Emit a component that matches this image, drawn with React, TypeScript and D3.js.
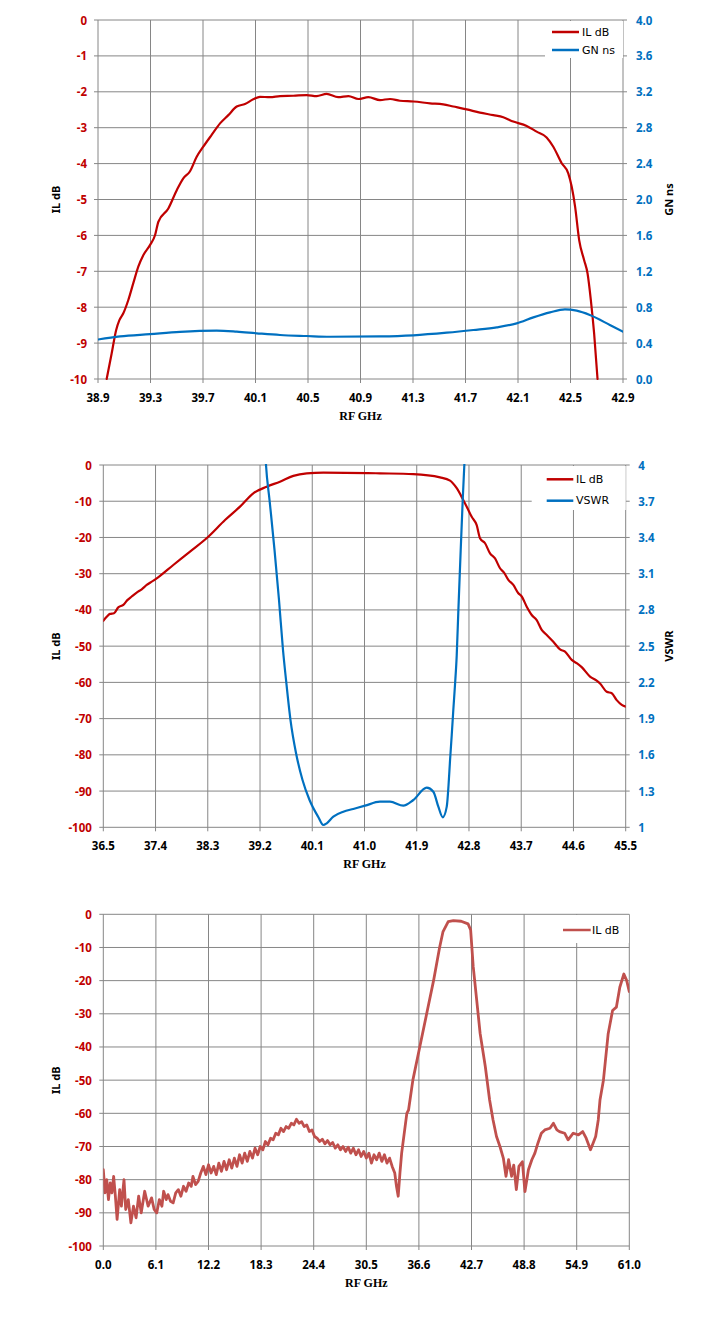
import React from 'react';
import * as d3 from 'd3';

// ---------- Chart 1 : IL dB / GN ns ----------
const c1XTicks = ['38.9', '39.3', '39.7', '40.1', '40.5', '40.9', '41.3', '41.7', '42.1', '42.5', '42.9'];
const c1LeftTicks = ['0', '-1', '-2', '-3', '-4', '-5', '-6', '-7', '-8', '-9', '-10'];
const c1RightTicks = ['0.0', '0.4', '0.8', '1.2', '1.6', '2.0', '2.4', '2.8', '3.2', '3.6', '4.0'];
const c1IL: [number, number][] = [
  [38.966, -10.0], [39.004, -9.29], [39.038, -8.64], [39.063, -8.36], [39.093, -8.17], [39.131, -7.8],
  [39.169, -7.33], [39.207, -6.87], [39.245, -6.55], [39.296, -6.27], [39.335, -5.99], [39.36, -5.62],
  [39.436, -5.25], [39.5, -4.74], [39.55, -4.41], [39.6, -4.22], [39.652, -3.81], [39.702, -3.53],
  [39.766, -3.2], [39.83, -2.88], [39.893, -2.65], [39.957, -2.41], [40.02, -2.34], [40.083, -2.21],
  [40.134, -2.14], [40.21, -2.15], [40.287, -2.12], [40.388, -2.11], [40.49, -2.09], [40.566, -2.12],
  [40.642, -2.06], [40.73, -2.15], [40.808, -2.12], [40.884, -2.2], [40.96, -2.15], [41.049, -2.23],
  [41.125, -2.2], [41.2, -2.25], [41.303, -2.27], [41.43, -2.32], [41.53, -2.35], [41.607, -2.41],
  [41.709, -2.49], [41.81, -2.58], [41.912, -2.65], [41.988, -2.71], [42.064, -2.83], [42.166, -2.95],
  [42.242, -3.11], [42.318, -3.27], [42.369, -3.53], [42.433, -3.99], [42.483, -4.27], [42.509, -4.64],
  [42.535, -5.2], [42.566, -6.13], [42.604, -6.69], [42.63, -7.06], [42.655, -7.8], [42.68, -8.73],
  [42.706, -10.0],
];
const c1GN: [number, number][] = [
  [38.9, 0.44], [39.068, 0.475], [39.296, 0.5], [39.525, 0.525], [39.804, 0.538], [39.957, 0.527],
  [40.109, 0.509], [40.287, 0.49], [40.49, 0.479], [40.668, 0.471], [41.049, 0.475], [41.302, 0.487],
  [41.557, 0.516], [41.76, 0.546], [41.938, 0.576], [42.09, 0.62], [42.217, 0.687], [42.344, 0.743],
  [42.458, 0.776], [42.547, 0.761], [42.647, 0.713], [42.8, 0.602], [42.9, 0.527],
];

// ---------- Chart 2 : IL dB / VSWR ----------
const c2XTicks = ['36.5', '37.4', '38.3', '39.2', '40.1', '41.0', '41.9', '42.8', '43.7', '44.6', '45.5'];
const c2LeftTicks = ['0', '-10', '-20', '-30', '-40', '-50', '-60', '-70', '-80', '-90', '-100'];
const c2RightTicks = ['1', '1.3', '1.6', '1.9', '2.2', '2.5', '2.8', '3.1', '3.4', '3.7', '4'];
const c2IL: [number, number][] = [
  [36.5, -43.0], [36.559, -41.9], [36.615, -41.1], [36.684, -40.9], [36.758, -39.3], [36.845, -38.6],
  [36.914, -37.3], [36.989, -36.3], [37.075, -35.2], [37.162, -34.3], [37.248, -33.1], [37.334, -32.2],
  [37.42, -31.3], [37.706, -27.6], [37.994, -23.9], [38.309, -19.8], [38.597, -15.2], [38.855, -11.5],
  [39.084, -7.8], [39.315, -6.0], [39.544, -4.6], [39.774, -3.0], [40.004, -2.3], [40.29, -2.1],
  [41.267, -2.3], [41.841, -2.5], [42.301, -3.4], [42.474, -4.3], [42.589, -6.4], [42.703, -9.7],
  [42.761, -11.5], [42.847, -14.3], [42.933, -16.6], [42.99, -20.2], [43.077, -21.6], [43.163, -24.4],
  [43.249, -25.8], [43.335, -28.5], [43.404, -29.7], [43.478, -31.7], [43.564, -33.1], [43.65, -35.4],
  [43.709, -36.3], [43.795, -39.1], [43.881, -41.4], [43.967, -42.8], [44.053, -45.5], [44.14, -46.9],
  [44.253, -48.8], [44.369, -50.9], [44.455, -51.5], [44.57, -53.8], [44.656, -54.7], [44.742, -55.8],
  [44.885, -58.4], [45.0, -59.5], [45.058, -60.3], [45.173, -62.6], [45.26, -63.0], [45.345, -64.9],
  [45.432, -66.2], [45.5, -66.7],
];
const c2VSWR: [number, number][] = [
  [39.28, 4.2], [39.303, 4.0], [39.364, 3.71], [39.45, 3.296], [39.527, 2.882], [39.596, 2.468],
  [39.648, 2.22], [39.725, 1.888], [39.82, 1.615], [39.932, 1.392], [40.053, 1.226], [40.204, 1.085],
  [40.29, 1.019], [40.349, 1.033], [40.463, 1.088], [40.635, 1.129], [40.807, 1.152], [41.009, 1.179],
  [41.267, 1.212], [41.439, 1.212], [41.669, 1.179], [41.841, 1.226], [42.072, 1.328], [42.186, 1.295],
  [42.272, 1.171], [42.348, 1.083], [42.417, 1.171], [42.448, 1.35], [42.474, 1.557], [42.503, 1.764],
  [42.53, 1.971], [42.559, 2.178], [42.589, 2.426], [42.616, 2.782], [42.646, 3.155], [42.692, 3.71],
  [42.72, 4.0], [42.74, 4.2],
];

// ---------- Chart 3 : wideband IL dB ----------
const c3XTicks = ['0.0', '6.1', '12.2', '18.3', '24.4', '30.5', '36.6', '42.7', '48.8', '54.9', '61.0'];
const c3LeftTicks = ['0', '-10', '-20', '-30', '-40', '-50', '-60', '-70', '-80', '-90', '-100'];
const c3IL: [number, number][] = [
  [0, -77], [0.2, -84], [0.4, -80], [0.6, -86], [0.8, -81], [1.0, -84], [1.2, -79], [1.4, -85],
  [1.6, -92], [1.9, -83], [2.1, -88], [2.4, -80], [2.6, -89], [2.9, -86], [3.2, -93], [3.5, -88],
  [3.8, -91.5], [4.1, -85], [4.4, -90], [4.8, -83.5], [5.2, -88], [5.6, -85.5], [5.9, -89], [6.2, -90],
  [6.5, -86], [6.8, -88], [7.0, -83.5], [7.3, -86], [7.5, -84.5], [7.8, -86.5], [8.1, -87], [8.4, -84],
  [8.7, -83], [9.0, -85], [9.3, -82], [9.6, -83.5], [9.9, -81], [10.2, -82], [10.4, -79], [10.7, -81.5],
  [11.0, -80.5], [11.3, -78], [11.6, -76], [11.9, -78.5], [12.2, -75.5], [12.5, -78], [12.8, -76],
  [13.1, -78.5], [13.4, -75], [13.7, -77.5], [14.0, -74.5], [14.3, -77], [14.6, -74], [14.9, -76.5],
  [15.2, -73.5], [15.5, -76], [15.8, -72.5], [16.1, -75], [16.4, -72], [16.7, -74.5], [17.0, -71.5],
  [17.3, -73.5], [17.6, -70.5], [17.9, -72.5], [18.2, -70], [18.5, -71], [18.8, -68.5], [19.1, -69.5],
  [19.4, -67.5], [19.7, -68], [20.0, -66], [20.3, -66.5], [20.6, -64.5], [20.9, -65.5], [21.2, -64],
  [21.5, -64.5], [21.8, -63], [22.1, -63.5], [22.4, -61.8], [22.7, -63], [23.0, -62.5], [23.3, -64],
  [23.6, -63.5], [23.9, -65.5], [24.2, -65], [24.5, -67], [24.8, -67.5], [25.1, -68.5], [25.4, -67.8],
  [25.7, -69.2], [26.0, -68.2], [26.3, -69.5], [26.6, -68.8], [26.9, -70.5], [27.2, -69.5], [27.5, -71],
  [27.8, -70], [28.1, -71.5], [28.4, -70.2], [28.7, -72], [29.0, -70.5], [29.3, -72.5], [29.6, -71],
  [29.9, -73], [30.2, -71.5], [30.5, -73.5], [30.8, -72], [31.1, -75], [31.4, -72.5], [31.7, -74],
  [32.0, -72], [32.3, -74.5], [32.6, -72.5], [32.9, -75], [33.2, -73.5], [33.5, -76], [33.8, -78],
  [34.0, -82], [34.2, -85], [34.4, -78], [34.6, -72], [34.8, -68], [35.2, -60], [35.4, -59], [35.9, -50],
  [36.7, -40], [37.5, -30], [38.3, -20], [39.0, -10], [39.4, -5.2], [40.0, -2.2], [40.6, -1.9],
  [41.5, -2.1], [42.3, -2.9], [42.6, -4.7], [42.9, -15.8], [43.3, -25.8], [43.7, -35.9], [44.3, -45.9],
  [44.8, -56], [45.2, -62], [45.6, -67], [46.0, -70], [46.4, -73.6], [46.7, -79], [47.0, -74],
  [47.35, -79], [47.6, -75.6], [47.9, -83], [48.2, -76], [48.6, -74.6], [48.9, -83.6], [49.3, -77],
  [49.7, -74], [50.05, -72], [50.4, -69], [50.8, -66], [51.2, -65], [51.8, -64.5], [52.2, -63],
  [52.6, -65], [52.9, -65.5], [53.5, -66], [53.9, -68], [54.5, -66], [55.1, -66.5], [55.6, -65.5],
  [56.0, -67.5], [56.5, -71], [56.8, -69], [57.1, -67], [57.4, -62], [57.6, -56], [58.0, -50],
  [58.55, -36], [59.06, -29], [59.5, -28], [59.9, -22], [60.37, -18], [60.7, -20], [61.0, -23.3],
];

const RED = '#C00000';
const BLUE = '#0070C0';
const RED3 = '#C0504D';
const GRID = '#868686';
const TICK_FONT = "'Noto Sans', 'Liberation Sans', sans-serif";
const LEG_FONT = "'DejaVu Sans', Verdana, sans-serif";
const TITLE_FONT = "'Liberation Serif', 'Times New Roman', serif";

type Series = { data: [number, number][]; axis: 'left' | 'right'; color: string; width: number; smooth: boolean };
type Legend = { x: number; y: number; w: number; h: number; lx1: number; lx2: number; tx: number; rows: { y: number; label: string; color: string }[] };
type ChartProps = {
  id: string;
  box: { l: number; r: number; t: number; b: number };
  xTicks: string[];
  leftTicks: string[];
  rightTicks?: string[];
  series: Series[];
  legend: Legend;
  rightTitle?: string;
  leftLabelGap: number;
  rightLabelGap: number;
};

function Chart(p: ChartProps) {
  const { box } = p;
  const xv = p.xTicks.map(Number);
  const lv = p.leftTicks.map(Number);
  const x = d3.scaleLinear().domain([xv[0], xv[xv.length - 1]]).range([box.l, box.r]);
  const yL = d3.scaleLinear().domain([d3.min(lv)!, d3.max(lv)!]).range([box.b, box.t]);
  const rv = p.rightTicks ? p.rightTicks.map(Number) : [0, 1];
  const yR = d3.scaleLinear().domain([d3.min(rv)!, d3.max(rv)!]).range([box.b, box.t]);
  const cx = (box.l + box.r) / 2;
  const cy = (box.t + box.b) / 2;
  return (
    <g>
      <defs>
        <clipPath id={p.id}>
          <rect x={box.l} y={box.t - 1} width={box.r - box.l} height={box.b - box.t + 2} />
        </clipPath>
      </defs>
      {p.leftTicks.map((t, i) => (
        <g key={'h' + i}>
          <line x1={box.l - 4} x2={box.r} y1={yL(lv[i])} y2={yL(lv[i])} stroke={GRID} strokeWidth={1} />
          <text x={box.l - p.leftLabelGap} y={yL(lv[i])} textAnchor="end" dominantBaseline="central"
            fontFamily={TICK_FONT} fontWeight="bold" fontSize={11.5} fill={RED}>{t}</text>
        </g>
      ))}
      {p.xTicks.map((t, i) => (
        <g key={'v' + i}>
          <line x1={x(xv[i])} x2={x(xv[i])} y1={box.t} y2={box.b + 4} stroke={GRID} strokeWidth={1} />
          <text x={x(xv[i])} y={box.b + 18} textAnchor="middle" dominantBaseline="central"
            fontFamily={TICK_FONT} fontWeight="bold" fontSize={11.5} fill="#000">{t}</text>
        </g>
      ))}
      {p.rightTicks && p.rightTicks.map((t, i) => (
        <g key={'r' + i}>
          <line x1={box.r} x2={box.r + 4} y1={yR(rv[i])} y2={yR(rv[i])} stroke={GRID} strokeWidth={1} />
          <text x={box.r + p.rightLabelGap} y={yR(rv[i])} textAnchor="start" dominantBaseline="central"
            fontFamily={TICK_FONT} fontWeight="bold" fontSize={11.5} fill={BLUE}>{t}</text>
        </g>
      ))}
      <rect x={p.legend.x} y={p.legend.y} width={p.legend.w} height={p.legend.h} fill="#fff" />
      <g clipPath={`url(#${p.id})`}>
        {p.series.map((s, i) => {
          const ys = s.axis === 'left' ? yL : yR;
          const line = d3.line<[number, number]>()
            .x(d => x(d[0]))
            .y(d => ys(d[1]))
            .curve(s.smooth ? d3.curveMonotoneX : d3.curveLinear);
          return <path key={'s' + i} d={line(s.data) || ''} fill="none" stroke={s.color} strokeWidth={s.width}
            strokeLinejoin="round" strokeLinecap="round" />;
        })}
      </g>
      {p.legend.rows.map((r, i) => (
        <g key={'l' + i}>
          <line x1={p.legend.lx1} x2={p.legend.lx2} y1={r.y} y2={r.y} stroke={r.color} strokeWidth={2.5} />
          <text x={p.legend.tx} y={r.y} dominantBaseline="central" fontFamily={LEG_FONT} fontSize={11} fill="#000">{r.label}</text>
        </g>
      ))}
      <text x={cx} y={box.b + 37} textAnchor="middle" dominantBaseline="central" fontFamily={TITLE_FONT}
        fontWeight="bold" fontSize={12} fill="#000">RF GHz</text>
      <text transform={`translate(55,${cy}) rotate(-90)`} textAnchor="middle" dominantBaseline="central"
        fontFamily={TICK_FONT} fontWeight="bold" fontSize={11} fill="#000">IL dB</text>
      {p.rightTitle && (
        <text transform={`translate(668,${cy}) rotate(-90)`} textAnchor="middle" dominantBaseline="central"
          fontFamily={TICK_FONT} fontWeight="bold" fontSize={11} fill="#000">{p.rightTitle}</text>
      )}
    </g>
  );
}

export default function App() {
  return (
    <svg width={718} height={1332} style={{ position: 'absolute', left: 0, top: 0, background: '#fff' }}>
      <rect x={0} y={0} width={718} height={1332} fill="#fff" />
      <Chart
        id="clip1"
        box={{ l: 98, r: 623, t: 20, b: 379 }}
        xTicks={c1XTicks}
        leftTicks={c1LeftTicks}
        rightTicks={c1RightTicks}
        leftLabelGap={11}
        rightLabelGap={13}
        rightTitle="GN ns"
        series={[
          { data: c1IL, axis: 'left', color: RED, width: 2.2, smooth: true },
          { data: c1GN, axis: 'right', color: BLUE, width: 2.2, smooth: true },
        ]}
        legend={{ x: 545, y: 21, w: 78, h: 37, lx1: 552, lx2: 579, tx: 582,
          rows: [{ y: 32, label: 'IL dB', color: RED }, { y: 50, label: 'GN ns', color: BLUE }] }}
      />
      <Chart
        id="clip2"
        box={{ l: 103.3, r: 625.7, t: 465, b: 827.3 }}
        xTicks={c2XTicks}
        leftTicks={c2LeftTicks}
        rightTicks={c2RightTicks}
        leftLabelGap={11.5}
        rightLabelGap={12.5}
        rightTitle="VSWR"
        series={[
          { data: c2IL, axis: 'left', color: RED, width: 2.2, smooth: true },
          { data: c2VSWR, axis: 'right', color: BLUE, width: 2.2, smooth: true },
        ]}
        legend={{ x: 531.7, y: 466, w: 94, h: 44, lx1: 546.7, lx2: 573.3, tx: 576,
          rows: [{ y: 479.3, label: 'IL dB', color: RED }, { y: 500.7, label: 'VSWR', color: BLUE }] }}
      />
      <Chart
        id="clip3"
        box={{ l: 103.3, r: 629.3, t: 914.3, b: 1246 }}
        xTicks={c3XTicks}
        leftTicks={c3LeftTicks}
        leftLabelGap={11.5}
        rightLabelGap={12}
        series={[{ data: c3IL, axis: 'left', color: RED3, width: 2.8, smooth: false }]}
        legend={{ x: 545, y: 915, w: 84, h: 28, lx1: 563, lx2: 590.7, tx: 592,
          rows: [{ y: 930, label: 'IL dB', color: RED3 }] }}
      />
    </svg>
  );
}
